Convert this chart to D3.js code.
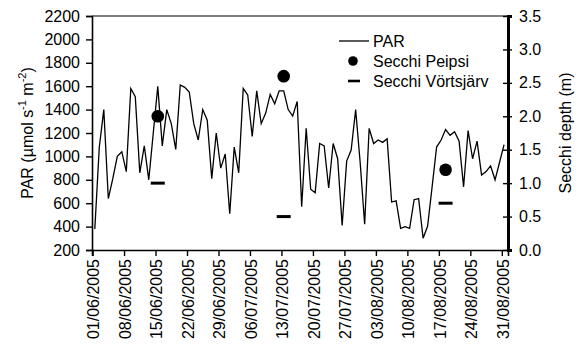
<!DOCTYPE html>
<html>
<head>
<meta charset="utf-8">
<script src="https://cdn.jsdelivr.net/npm/d3@7"></script>
<style>
  html, body { margin: 0; padding: 0; background: #fff; }
  svg { display: block; font-family: "Liberation Sans", Arial, sans-serif; }
</style>
</head>
<body>
<div id="chart"></div>
<script>
// Daily PAR, 1 June - 31 August 2005 (one value per day)
const PAR_START = '2005-06-01T12:00';
const parValues = [
  380, 1080, 1400, 640, 810, 1000, 1040, 870, 1580, 1510,
  860, 1090, 800, 1200, 1600, 1090, 1400, 1280, 1060, 1610,
  1590, 1550, 1280, 1140, 1400, 1310, 810, 1200, 900, 1020,
  510, 1080, 860, 1580, 1525, 1170, 1560, 1280, 1370, 1530,
  1450, 1560, 1560, 1400, 1345, 1470, 570, 1240, 720, 690,
  1110, 1090, 730, 1110, 980, 410, 960, 1055, 1400, 950,
  420, 1240, 1110, 1140, 1120, 1150, 610, 620, 385, 400,
  385, 630, 640, 300, 405, 740, 1080, 1140, 1230, 1180,
  1210, 1130, 740, 1220, 980, 1130, 840, 870, 920, 800,
  950, 1100
];

// Secchi depth measurements (m)
const secchiDates = ['2005-06-15T12:00', '2005-07-13T12:00', '2005-08-18T12:00'];
const secchiPeipsi = [2.0, 2.6, 1.2];
const secchiVortsjarv = [1.0, 0.5, 0.7];

// Axis ticks
const xTickDates = ['01/06/2005', '08/06/2005', '15/06/2005', '22/06/2005', '29/06/2005',
  '06/07/2005', '13/07/2005', '20/07/2005', '27/07/2005', '03/08/2005',
  '10/08/2005', '17/08/2005', '24/08/2005', '31/08/2005'];
const parTicks = [200, 400, 600, 800, 1000, 1200, 1400, 1600, 1800, 2000, 2200];
const secchiTicks = [0, 0.5, 1.0, 1.5, 2.0, 2.5, 3.0, 3.5];

const W = 579, H = 349;
const MARGIN = { top: 16, right: 71, bottom: 99, left: 92 };
const FONT = 16;

const parseIso = d3.timeParse('%Y-%m-%dT%H:%M');
const parseTick = d3.timeParse('%d/%m/%Y');
const fmtTick = d3.timeFormat('%d/%m/%Y');

const t0 = parseIso(PAR_START);
const par = parValues.map((v, i) => ({ date: d3.timeDay.offset(t0, i), value: v }));
const secchi = secchiDates.map((d, i) => ({
  date: parseIso(d), peipsi: secchiPeipsi[i], vortsjarv: secchiVortsjarv[i]
}));

const svg = d3.select('#chart').append('svg')
  .attr('width', W).attr('height', H);

const innerW = W - MARGIN.left - MARGIN.right;
const innerH = H - MARGIN.top - MARGIN.bottom;

const x = d3.scaleTime()
  .domain([parseIso('2005-05-31T21:00'), parseIso('2005-09-01T09:00')])
  .range([MARGIN.left, MARGIN.left + innerW]);
const yPar = d3.scaleLinear().domain([200, 2200]).range([MARGIN.top + innerH, MARGIN.top]);
const ySec = d3.scaleLinear().domain([0, 3.5]).range([MARGIN.top + innerH, MARGIN.top]);

const styleText = sel => sel
  .attr('font-family', '"Liberation Sans", Arial, sans-serif')
  .attr('font-size', FONT)
  .attr('fill', '#000');

// Top frame line
svg.append('line')
  .attr('x1', MARGIN.left).attr('x2', MARGIN.left + innerW)
  .attr('y1', MARGIN.top).attr('y2', MARGIN.top)
  .attr('stroke', '#000').attr('stroke-width', 1.2);

// Left axis (PAR)
const axL = svg.append('g')
  .attr('transform', `translate(${MARGIN.left},0)`)
  .call(d3.axisLeft(yPar).tickValues(parTicks).tickSize(6).tickPadding(6)
    .tickFormat(d3.format('d')));
axL.select('.domain').attr('stroke-width', 1.6);
axL.selectAll('.tick line').attr('stroke-width', 1.4);
axL.selectAll('text').call(styleText);

// Right axis (Secchi)
const axR = svg.append('g')
  .attr('transform', `translate(${MARGIN.left + innerW},0)`)
  .call(d3.axisRight(ySec).tickValues(secchiTicks).tickSize(4).tickPadding(7)
    .tickFormat(d3.format('.1f')));
axR.select('.domain').attr('stroke-width', 3);
axR.selectAll('.tick line').attr('x1', -5).attr('stroke-width', 1.4);
axR.selectAll('text').call(styleText);

// Bottom axis (dates)
const axB = svg.append('g')
  .attr('transform', `translate(0,${MARGIN.top + innerH})`)
  .call(d3.axisBottom(x).tickValues(xTickDates.map(parseTick)).tickSize(6)
    .tickFormat(fmtTick));
axB.select('.domain').attr('stroke-width', 1.6);
axB.selectAll('.tick line').attr('stroke-width', 1.4);
axB.selectAll('text').call(styleText)
  .attr('transform', 'rotate(-90)')
  .attr('text-anchor', 'end')
  .attr('x', -9).attr('y', 0)
  .attr('dy', '0.4em');

// PAR line
svg.append('path')
  .datum(par)
  .attr('fill', 'none')
  .attr('stroke', '#000')
  .attr('stroke-width', 1.3)
  .attr('stroke-linejoin', 'miter')
  .attr('d', d3.line().x(d => x(d.date)).y(d => yPar(d.value)));

// Secchi Peipsi (dots)
svg.selectAll('.peipsi')
  .data(secchi)
  .join('circle')
  .attr('class', 'peipsi')
  .attr('cx', d => x(d.date))
  .attr('cy', d => ySec(d.peipsi))
  .attr('r', 6.3)
  .attr('fill', '#000');

// Secchi Võrtsjärv (dashes)
svg.selectAll('.vorts')
  .data(secchi)
  .join('line')
  .attr('class', 'vorts')
  .attr('x1', d => x(d.date) - 7)
  .attr('x2', d => x(d.date) + 7)
  .attr('y1', d => ySec(d.vortsjarv))
  .attr('y2', d => ySec(d.vortsjarv))
  .attr('stroke', '#000')
  .attr('stroke-width', 3);

// Axis titles
const titleL = svg.append('text')
  .attr('transform', `translate(33,${MARGIN.top + innerH / 2}) rotate(-90)`)
  .attr('text-anchor', 'middle')
  .call(styleText);
titleL.append('tspan').text('PAR (\u00b5mol s');
titleL.append('tspan').attr('font-size', 11).attr('dy', -7).text('-1');
titleL.append('tspan').attr('dy', 7).text(' m');
titleL.append('tspan').attr('font-size', 11).attr('dy', -7).text('-2');
titleL.append('tspan').attr('dy', 7).text(')');

svg.append('text')
  .attr('transform', `translate(571,${MARGIN.top + innerH / 2}) rotate(-90)`)
  .attr('text-anchor', 'middle')
  .call(styleText)
  .text('Secchi depth (m)');

// Legend
const leg = svg.append('g').attr('transform', 'translate(339,41)');
const legRow = 20;
leg.append('line')
  .attr('x1', 0).attr('x2', 30).attr('y1', 0).attr('y2', 0)
  .attr('stroke', '#000').attr('stroke-width', 1.3);
leg.append('circle')
  .attr('cx', 14).attr('cy', legRow).attr('r', 4.8).attr('fill', '#000');
leg.append('line')
  .attr('x1', 9).attr('x2', 21).attr('y1', legRow * 2).attr('y2', legRow * 2)
  .attr('stroke', '#000').attr('stroke-width', 2.6);
['PAR', 'Secchi Peipsi', 'Secchi V\u00f6rtsj\u00e4rv'].forEach((label, i) => {
  leg.append('text')
    .attr('x', 34).attr('y', i * legRow)
    .attr('dy', '0.36em')
    .call(styleText)
    .text(label);
});
</script>
</body>
</html>
